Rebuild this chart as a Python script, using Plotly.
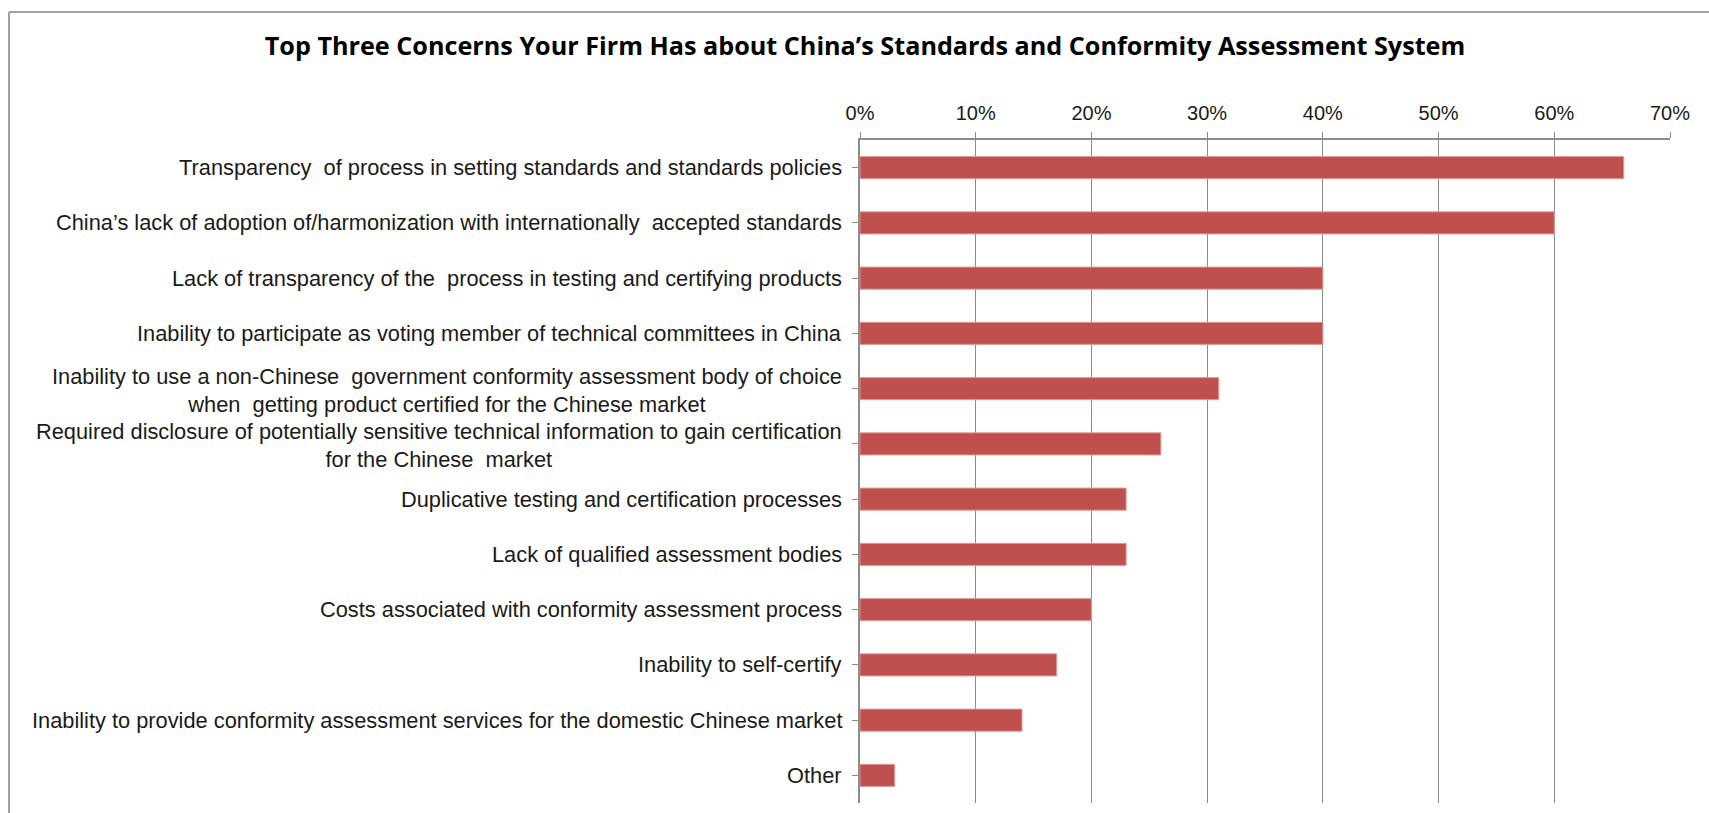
import plotly.graph_objects as go

title_text = "Top Three Concerns Your Firm Has about China\u2019s Standards and Conformity Assessment System"

categories = [
    "Transparency  of process in setting standards and standards policies",
    "China\u2019s lack of adoption of/harmonization with internationally  accepted standards",
    "Lack of transparency of the  process in testing and certifying products",
    "Inability to participate as voting member of technical committees in China",
    "Inability to use a non-Chinese  government conformity assessment body of choice<br>when  getting product certified for the Chinese market",
    "Required disclosure of potentially sensitive technical information to gain certification<br>for the Chinese  market",
    "Duplicative testing and certification processes",
    "Lack of qualified assessment bodies",
    "Costs associated with conformity assessment process",
    "Inability to self-certify",
    "Inability to provide conformity assessment services for the domestic Chinese market",
    "Other",
]
values = [0.66, 0.60, 0.40, 0.40, 0.31, 0.26, 0.23, 0.23, 0.20, 0.17, 0.14, 0.03]
tick_vals = [0, 0.1, 0.2, 0.3, 0.4, 0.5, 0.6, 0.7]
tick_text = ["0%", "10%", "20%", "30%", "40%", "50%", "60%", "70%"]

W, H = 1709, 813
ML, MR, MT, MB = 860, 39, 140, 10
GREY = "#8C8C8C"
LABEL_FONT = dict(family="Liberation Sans, Arial, sans-serif", size=21.8, color="#1A1A1A")

fig = go.Figure()
fig.add_trace(go.Bar(
    x=values,
    y=list(range(len(categories))),
    orientation="h",
    marker=dict(color="#C0504D", line=dict(color="#DE9B99", width=1)),
    hoverinfo="x",
))

annotations = []
for i, cat in enumerate(categories):
    multi = "<br>" in cat
    annotations.append(dict(
        x=0, xref="paper", y=i, yref="y",
        text=cat, showarrow=False,
        xanchor="right", yanchor="middle",
        xshift=-16, yshift=-2 if multi else 0, align="center",
        font=LABEL_FONT,
    ))

plot_w = W - ML - MR
plot_h = H - MT - MB
left_px, top_px = 9, 12
x_left = (left_px - ML) / plot_w
y_top = (H - MB - top_px) / plot_h

shapes = [
    dict(type="line", xref="paper", yref="paper", x0=x_left, x1=(W - ML) / plot_w + 0.01,
         y0=y_top, y1=y_top, line=dict(color="#A0A0A0", width=2)),
    dict(type="line", xref="paper", yref="paper", x0=x_left, x1=x_left,
         y0=y_top, y1=-0.05, line=dict(color="#A0A0A0", width=2)),
]

fig.update_layout(
    width=W, height=H,
    margin=dict(l=ML, r=MR, t=MT, b=MB, pad=0),
    paper_bgcolor="white", plot_bgcolor="white",
    showlegend=False,
    bargap=0.6,
    title=dict(
        text=title_text,
        x=865 / W, xanchor="center", xref="container",
        y=1 - 46 / H, yanchor="middle", yref="container",
        font=dict(family="Open Sans, DejaVu Sans, sans-serif", size=25.2, color="#000000", weight="bold"),
    ),
    xaxis=dict(
        side="top", range=[0, 0.7],
        tickvals=tick_vals, ticktext=tick_text,
        showgrid=True, gridcolor=GREY, gridwidth=1,
        showline=True, linecolor=GREY, linewidth=2,
        ticks="outside", ticklen=6, tickcolor=GREY,
        tickfont=dict(family="Liberation Sans, Arial, sans-serif", size=20, color="#1A1A1A"),
        ticklabelstandoff=4,
        zeroline=False, fixedrange=True,
    ),
    yaxis=dict(
        range=[len(categories) - 0.5, -0.5],
        tickvals=list(range(len(categories))),
        showticklabels=False,
        showline=True, linecolor=GREY, linewidth=2,
        ticks="outside", ticklen=6, tickcolor=GREY, tickson="boundaries",
        showgrid=False, zeroline=False, fixedrange=True,
    ),
    annotations=annotations,
    shapes=shapes,
)

fig.write_html("out.html")
